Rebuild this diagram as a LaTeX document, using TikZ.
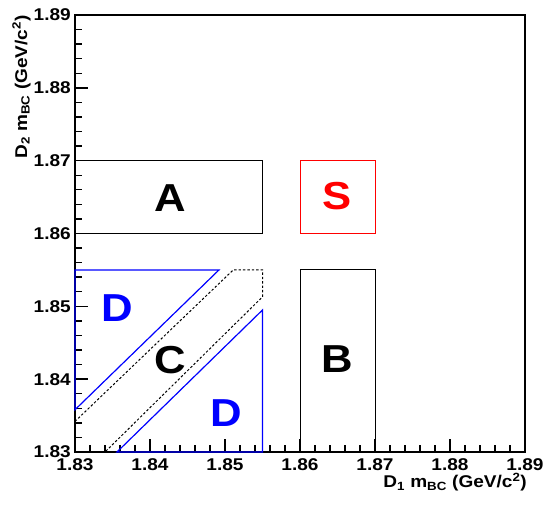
\documentclass[tikz,border=0pt]{standalone}
\usepackage{fontspec}
\setmainfont{Liberation Sans}[FakeStretch=1.12]
\begin{document}
\begin{tikzpicture}[x=1pt,y=1pt,
  frame/.style={line width=2pt,black},
  tickline/.style={line width=1.4pt,black},
  boxline/.style={line width=1pt,black},
  sbox/.style={line width=1pt,red},
  dregion/.style={line width=1.2pt,blue},
  cregion/.style={line width=1pt,black,dash pattern=on 2.4pt off 2pt},
  ticklab/.style={font=\fontsize{17}{17}\selectfont\bfseries,inner sep=0pt},
  axtitle/.style={font=\fontsize{17}{17}\selectfont\bfseries,inner sep=0pt},
  biglab/.style={font=\fontsize{39}{39}\selectfont\bfseries,inner sep=0pt}]
\useasboundingbox (0,0) rectangle (544,506);
\fill[white] (0,0) rectangle (544,506);
\begin{scope}[shift={(75pt,54pt)},x=7.5pt,y=7.2833pt]
  % regions
  \draw[boxline] (0,30) rectangle (25,40);
  \draw[boxline] (30,0) rectangle (40,25);
  \draw[sbox] (30,30) rectangle (40,40);
  \draw[cregion] (0,4.2) -- (21.1,25) -- (25,25) -- (25,21.3) -- (4,0);
  % frame and ticks
  \draw[frame] (0,0) rectangle (60,60);
  \foreach \i in {0,2,...,60} {
    \draw[tickline] (\i,0) -- ++(0pt,7pt);
    \draw[tickline] (0,\i) -- ++(7pt,0pt);
  }
  \foreach \i in {0,10,...,60} {
    \draw[tickline] (\i,0) -- ++(0pt,13pt);
    \draw[tickline] (0,\i) -- ++(13pt,0pt);
  }
  \foreach \i/\l in {0/1.83,10/1.84,20/1.85,30/1.86,40/1.87,50/1.88,60/1.89} {
    \node[ticklab,anchor=north] (xl\i) at ([yshift=-6pt]\i,0) {\l};
    \node[ticklab,anchor=east] (yl\i) at ([xshift=-4pt]0,\i) {\l};
  }
  % D regions
  \draw[dregion] (0,25) -- (19.2,25) -- (0,5.8) -- cycle;
  \draw[dregion] (5.6,0) -- (25,19.5) -- (25,0) -- cycle;
  % labels
  \node[biglab] (A) at (12.7,34.9) {A};
  \node[biglab,red] (S) at (35,35.2) {S};
  \node[biglab] (B) at (35,12.8) {B};
  \node[biglab] (C) at (12.7,12.6) {C};
  \node[biglab,blue] (D1) at (5.6,19.8) {D};
  \node[biglab,blue] (D2) at (20.2,5.4) {D};
\end{scope}
\node[axtitle,anchor=base east] (xt) at (527,18) {D\textsubscript{1} m\textsubscript{BC} (GeV/c\textsuperscript{2})};
\node[axtitle,anchor=base east,rotate=90] (yt) at (27,491) {D\textsubscript{2} m\textsubscript{BC} (GeV/c\textsuperscript{2})};
\end{tikzpicture}
\end{document}
